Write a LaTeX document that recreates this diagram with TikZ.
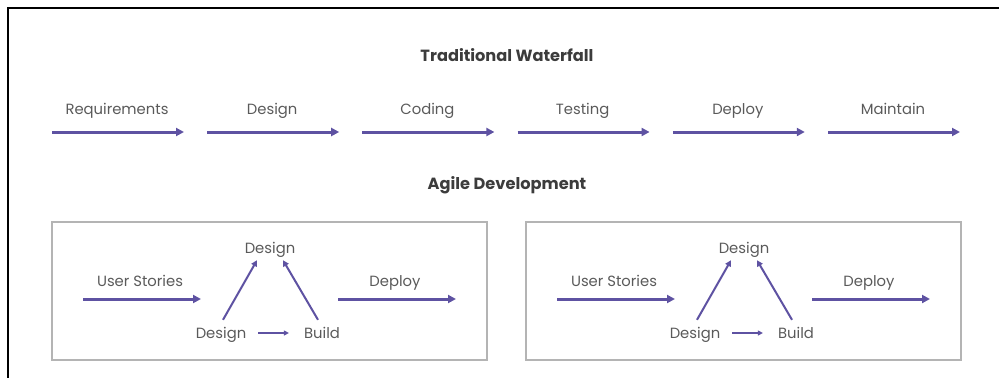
\documentclass[tikz,border=0pt]{standalone}
\usepackage{fontspec}
\setmainfont{Poppins}
\usetikzlibrary{arrows.meta,positioning}

\definecolor{flowpurple}{HTML}{5E52A2}
\definecolor{labelgray}{HTML}{5A5A5A}
\definecolor{headgray}{HTML}{3C3C3C}
\definecolor{boxgray}{HTML}{B4B4B4}

\begin{document}
\begin{tikzpicture}
[
	x=1pt,y=-1pt,
	steplabel/.style={text=labelgray,font=\fontsize{14.8}{17}\selectfont,inner sep=0pt,text height=10.5pt,text depth=0pt},
	heading/.style={text=headgray,font=\fontsize{16.2}{19}\selectfont\bfseries,inner sep=0pt},
	bigarrow/.style={draw=flowpurple,line width=3pt,-{Triangle[length=8pt,width=8pt]}},
	midarrow/.style={draw=flowpurple,line width=2pt,-{Triangle[length=6pt,width=6pt]}},
	smallarrow/.style={draw=flowpurple,line width=1.5pt,-{Triangle[length=5pt,width=5pt]}},
	agilebox/.style={draw=boxgray,line width=2pt}
]

	\useasboundingbox (0,0) rectangle (999,378);

	% frame
	\draw[line width=2.5pt] (999,8) -- (8,8) -- (8,378);

	% headings
	\node[heading] (waterfall) at (507,55) {Traditional Waterfall};
	\node[heading] (agile) at (507,185) {Agile Development};

	% waterfall steps
	\foreach \name [count=\i from 0] in {Requirements,Design,Coding,Testing,Deploy,Maintain}
	{
		\node[steplabel] (w\i) at ({117+155.2*\i},109) {\name};
		\coordinate (w\i s) at ({52+155.2*\i},132);
		\coordinate (w\i e) at ({184+155.2*\i},132);
		\draw[bigarrow] (w\i s) -- (w\i e);
	}

	% agile cycles
	\foreach \dx/\k in {0/a,474/b}
	{
		\draw[agilebox] (52+\dx,222) rectangle (487+\dx,360);

		\node[steplabel] (us\k) at (140+\dx,281) {User Stories};
		\coordinate (us\k s) at (83+\dx,299);
		\coordinate (us\k e) at (201+\dx,299);
		\draw[bigarrow] (us\k s) -- (us\k e);

		\node[steplabel] (top\k) at (270+\dx,248) {Design};
		\node[steplabel] (dsg\k) at (221+\dx,333) {Design};
		\node[steplabel] (bld\k) at (322+\dx,333) {Build};

		\draw[midarrow] ([xshift=2pt,yshift=7.75pt]dsg\k.north) -- ([xshift=-13pt,yshift=-6.75pt]top\k.south);
		\draw[midarrow] ([xshift=-4pt,yshift=7.75pt]bld\k.north) -- ([xshift=13pt,yshift=-6.75pt]top\k.south);
		\draw[smallarrow,shorten <=12pt,shorten >=15pt] (dsg\k.east) -- (bld\k.west);

		\node[steplabel] (dep\k) at (395+\dx,281) {Deploy};
		\coordinate (dep\k s) at (338+\dx,299);
		\coordinate (dep\k e) at (456+\dx,299);
		\draw[bigarrow] (dep\k s) -- (dep\k e);
	}

\end{tikzpicture}
\end{document}
